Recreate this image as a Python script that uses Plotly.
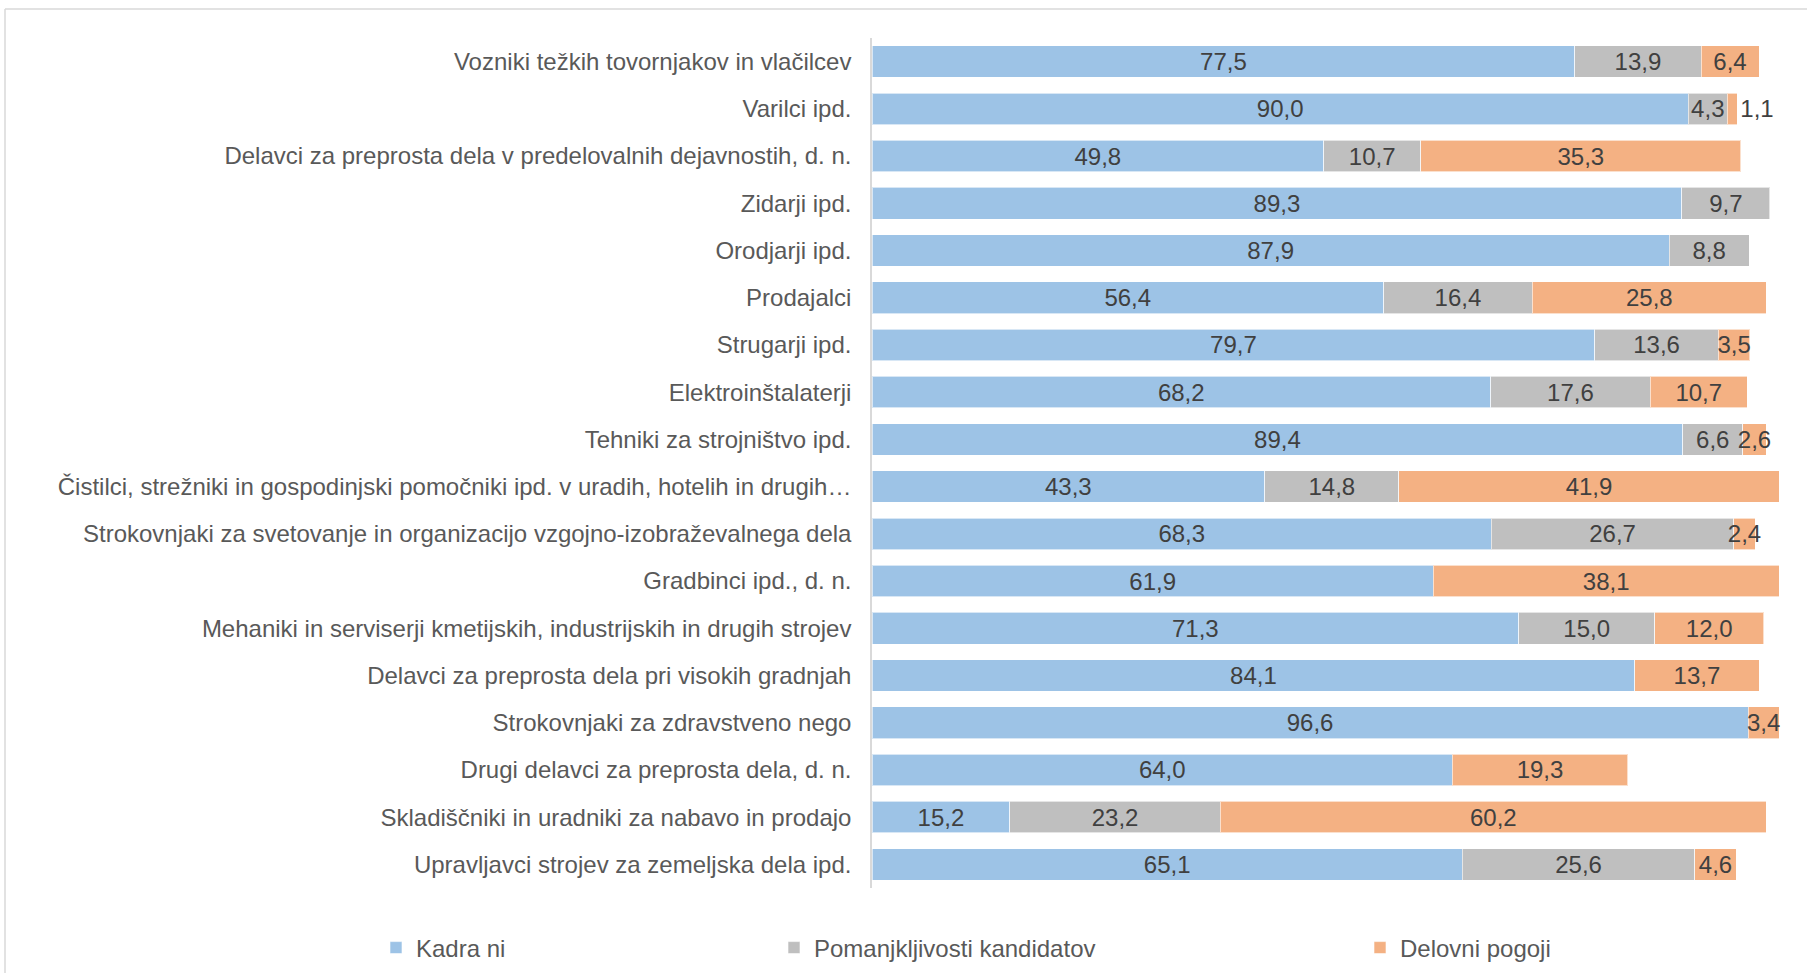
import plotly.graph_objects as go

categories = [
    "Vozniki težkih tovornjakov in vlačilcev",
    "Varilci ipd.",
    "Delavci za preprosta dela v predelovalnih dejavnostih, d. n.",
    "Zidarji ipd.",
    "Orodjarji ipd.",
    "Prodajalci",
    "Strugarji ipd.",
    "Elektroinštalaterji",
    "Tehniki za strojništvo ipd.",
    "Čistilci, strežniki in gospodinjski pomočniki ipd. v uradih, hotelih in drugih…",
    "Strokovnjaki za svetovanje in organizacijo vzgojno-izobraževalnega dela",
    "Gradbinci ipd., d. n.",
    "Mehaniki in serviserji kmetijskih, industrijskih in drugih strojev",
    "Delavci za preprosta dela pri visokih gradnjah",
    "Strokovnjaki za zdravstveno nego",
    "Drugi delavci za preprosta dela, d. n.",
    "Skladiščniki in uradniki za nabavo in prodajo",
    "Upravljavci strojev za zemeljska dela ipd.",
]

kadra_ni = [77.5, 90.0, 49.8, 89.3, 87.9, 56.4, 79.7, 68.2, 89.4, 43.3, 68.3, 61.9, 71.3, 84.1, 96.6, 64.0, 15.2, 65.1]
pomanjkljivosti = [13.9, 4.3, 10.7, 9.7, 8.8, 16.4, 13.6, 17.6, 6.6, 14.8, 26.7, None, 15.0, None, None, None, 23.2, 25.6]
delovni_pogoji = [6.4, 1.1, 35.3, None, None, 25.8, 3.5, 10.7, 2.6, 41.9, 2.4, 38.1, 12.0, 13.7, 3.4, 19.3, 60.2, 4.6]

series_names = ["Kadra ni", "Pomanjkljivosti kandidatov", "Delovni pogoji"]
series_values = [kadra_ni, pomanjkljivosti, delovni_pogoji]
colors = ["#9DC3E6", "#BFBFBF", "#F4B183"]
legend_ids = ["legend", "legend2", "legend3"]

W, H = 1807, 973
L, R, T, B = 872, 28, 38, 85
pw = W - L - R
ph = H - T - B

FONT = "Arial, 'Liberation Sans', sans-serif"


def fmt(v):
    return "" if v is None else f"{v:.1f}".replace(".", ",")


fig = go.Figure()
for name, vals, col, lg in zip(series_names, series_values, colors, legend_ids):
    texts = [fmt(v) for v in vals]
    positions = []
    for v in vals:
        if v is not None and v < 2 and name == "Delovni pogoji":
            positions.append("outside")
        else:
            positions.append("inside")
    fig.add_trace(go.Bar(
        y=categories, x=vals, name=name, orientation="h",
        marker=dict(color=col, line=dict(color="rgba(255,255,255,0.6)", width=1)),
        text=texts, textposition=positions, insidetextanchor="middle",
        textangle=0, constraintext="none", cliponaxis=False,
        textfont=dict(family=FONT, size=24, color="#404040"),
        outsidetextfont=dict(family=FONT, size=24, color="#404040"),
        legend=lg,
    ))


def px_to_paper_x(px):
    return (px - L) / pw


def px_to_paper_y(py):
    return (H - B - py) / ph


legend_common = dict(
    orientation="h", yanchor="middle", xanchor="left",
    font=dict(family=FONT, size=24, color="#595959"),
    bgcolor="rgba(0,0,0,0)", borderwidth=0,
)
legend_px = [376, 774, 1360]
legend_y = 948

fig.update_layout(
    width=W, height=H,
    margin=dict(l=L, r=R, t=T, b=B, autoexpand=False),
    barmode="stack", bargap=0.33,
    plot_bgcolor="white", paper_bgcolor="white",
    font=dict(family=FONT, size=24, color="#595959"),
    xaxis=dict(range=[0, 100], visible=False, fixedrange=True),
    yaxis=dict(
        autorange="reversed", showline=True, linecolor="#D9D9D9", linewidth=1.5,
        ticks="", showgrid=False, zeroline=False, ticklabelstandoff=14,
        tickfont=dict(family=FONT, size=24, color="#595959"),
    ),
    legend=dict(x=px_to_paper_x(legend_px[0]), y=px_to_paper_y(legend_y), **legend_common),
    legend2=dict(x=px_to_paper_x(legend_px[1]), y=px_to_paper_y(legend_y), **legend_common),
    legend3=dict(x=px_to_paper_x(legend_px[2]), y=px_to_paper_y(legend_y), **legend_common),
    showlegend=True,
)

# chart frame (top and left border)
fig.add_shape(type="line", xref="paper", yref="paper",
              x0=px_to_paper_x(5), x1=px_to_paper_x(W + 5),
              y0=px_to_paper_y(9), y1=px_to_paper_y(9),
              line=dict(color="#D9D9D9", width=1.5), layer="below")
fig.add_shape(type="line", xref="paper", yref="paper",
              x0=px_to_paper_x(5), x1=px_to_paper_x(5),
              y0=px_to_paper_y(9), y1=px_to_paper_y(H + 5),
              line=dict(color="#D9D9D9", width=1.5), layer="below")

fig.write_html(
    "out.html",
    config={"displayModeBar": False},
    post_script="document.body.style.margin='0';document.body.style.overflow='hidden';",
)
